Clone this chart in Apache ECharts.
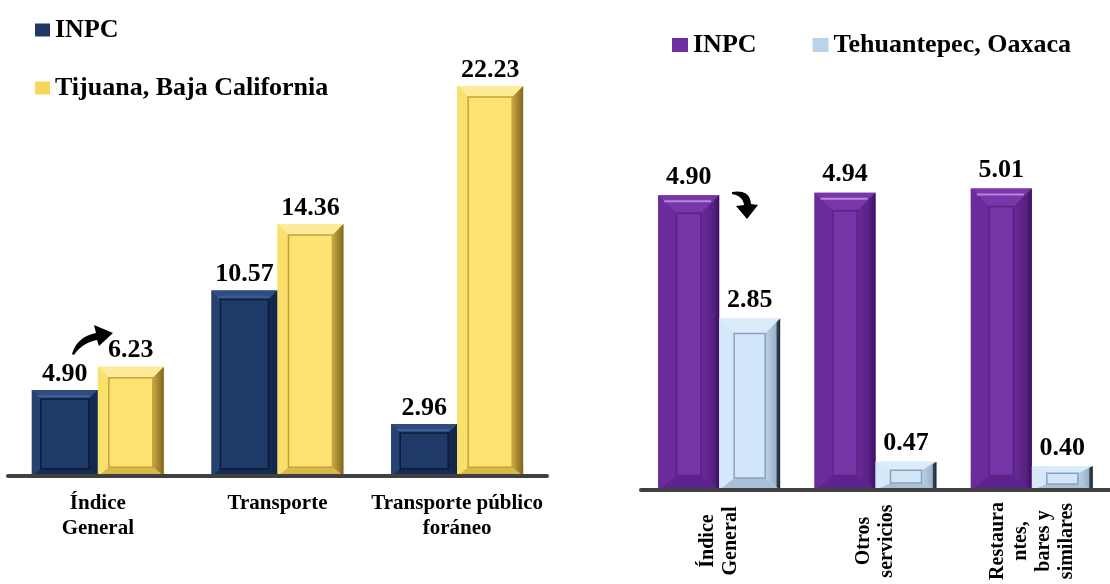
<!DOCTYPE html>
<html>
<head>
<meta charset="utf-8">
<script src="https://cdn.jsdelivr.net/npm/echarts@6/dist/echarts.min.js"></script>
<style>
  html, body { margin: 0; padding: 0; background: #fff; }
  #chart { width: 1110px; height: 584px; }
</style>
</head>
<body>
<div id="chart"></div>
<script>
// Left panel: Tijuana vs national index
const leftCategories = ['Índice\nGeneral', 'Transporte', 'Transporte público\nforáneo'];
const leftInpc = [4.90, 10.57, 2.96];
const leftTijuana = [6.23, 14.36, 22.23];

// Right panel: Tehuantepec vs national index
const rightCategories = ['Índice\nGeneral', 'Otros\nservicios', 'Restaura\nntes,\nbares y\nsimilares'];
const rightInpc = [4.90, 4.94, 5.01];
const rightTehuantepec = [2.85, 0.47, 0.40];

const SERIF = '"Liberation Serif", "Times New Roman", serif';

// Bevelled "button" look for each colour; gradient stops run from the outer edge inwards
const STYLES = {
  navy:   { base: '#1f3864', top: '#2e4c82', left: '#26426f', right: '#14284d', bottom: '#172c52',
            panel: '#1f3a69', stroke: '#0d1b36', hl: '#3e5d94', ih: 9, iv: 9 },
  yellow: { base: '#fddf6c', top: '#fdeb98', left: '#f9df6c',
            right: [[0, '#c9a843'], [1, '#7f6522']], bottom: '#d8b84b',
            panel: '#fde171', stroke: '#c3a23c', hl: null, ih: 11, iv: 11 },
  purple: { base: '#7030a0', top: '#7836a8', left: '#6a2c9c',
            right: [[0, '#6a2b9a'], [0.7, '#55207f'], [1, '#3a1062']], bottom: '#5d248e',
            panel: '#7535a6', stroke: '#5a2285', hl: '#b887de', ih: 20, iv: 18 },
  sky:    { base: '#c8e0f6', top: '#dbebfa', left: '#d4e8f9',
            right: [[0, '#bcd2e8'], [0.72, '#9ab2c9'], [0.8, '#34404e'], [1, '#1f2933']], bottom: '#a8c1d9',
            panel: '#d1e6f8', stroke: '#8aa2ba', hl: null, ih: 15, iv: 15 }
};

function fillOf(c) {
  if (Array.isArray(c)) {
    return { type: 'linear', x: 0, y: 0, x2: 1, y2: 0,
      colorStops: c.map((s) => ({ offset: s[0], color: s[1] })) };
  }
  return c;
}

function bevelRenderer(style, barW, side) {
  return function (params, api) {
    const top = api.coord([api.value(0), api.value(1)]);
    const base = api.coord([api.value(0), 0]);
    const w = barW;
    const x = top[0] + (side < 0 ? -w : 0);
    const y = top[1];
    const h = base[1] - top[1];
    const ih = Math.min(style.ih, w * 0.3);
    const iv = Math.min(style.iv, h * 0.3);
    const ivb = Math.min(style.iv * 0.8, h * 0.25);
    const poly = (pts, fill) => ({ type: 'polygon', shape: { points: pts }, style: { fill: fill } });
    const children = [
      poly([[x, y], [x + w, y], [x + w - ih, y + iv], [x + ih, y + iv]], style.top),
      poly([[x, y + h], [x + w, y + h], [x + w - ih, y + h - ivb], [x + ih, y + h - ivb]], style.bottom),
      poly([[x, y], [x + ih, y + iv], [x + ih, y + h - ivb], [x, y + h]], style.left),
      poly([[x + w, y], [x + w - ih, y + iv], [x + w - ih, y + h - ivb], [x + w, y + h]], fillOf(style.right)),
      {
        type: 'rect',
        shape: { x: x + ih, y: y + iv, width: w - 2 * ih, height: Math.max(0, h - iv - ivb) },
        style: { fill: style.panel, stroke: style.stroke, lineWidth: 1.5 }
      }
    ];
    if (style.hl && h > 20) {
      children.push({
        type: 'line',
        shape: { x1: x + 6, y1: y + 6, x2: x + w - 8, y2: y + 6 },
        style: { stroke: style.hl, lineWidth: 2 }
      });
    }
    return { type: 'group', children: children };
  };
}

const valueLabel = (dist) => ({
  show: true,
  position: 'top',
  distance: dist,
  formatter: (p) => Number(p.value).toFixed(2),
  fontFamily: SERIF,
  fontWeight: 'bold',
  fontSize: 26,
  color: '#000'
});

const LEFT_W = 66, RIGHT_W = 61;

function barSeries(name, data, styleKey, axisIdx, barW, dist) {
  return {
    name: name,
    type: 'bar',
    xAxisIndex: axisIdx,
    yAxisIndex: axisIdx,
    data: data,
    barWidth: barW,
    barGap: '0%',
    z: 2,
    itemStyle: { color: STYLES[styleKey].base },
    label: valueLabel(dist)
  };
}

function bevelSeries(data, styleKey, axisIdx, barW, side) {
  return {
    type: 'custom',
    xAxisIndex: axisIdx,
    yAxisIndex: axisIdx,
    z: 3,
    silent: true,
    renderItem: bevelRenderer(STYLES[styleKey], barW, side),
    data: data.map((v, i) => [i, v])
  };
}

// Curved arrow outline: a quadratic spine with a triangular head
function quad(p0, p1, p2, n) {
  const pts = [];
  for (let i = 0; i <= n; i++) {
    const t = i / n, u = 1 - t;
    pts.push([u * u * p0[0] + 2 * u * t * p1[0] + t * t * p2[0],
              u * u * p0[1] + 2 * u * t * p1[1] + t * t * p2[1]]);
  }
  return pts;
}
const arrowUp = [].concat(
  quad([72, 354], [77, 337], [96, 333], 12),
  [[94, 325], [113, 333], [99, 346]],
  quad([97, 340], [82, 343], [74, 355], 12)
);
const arrowDown = [].concat(
  quad([732, 192], [750, 189], [751, 204], 12),
  [[758, 205], [747, 219], [736, 206]],
  quad([744, 205], [743, 196], [732, 194], 12)
);

const catAxisLine = { show: true, lineStyle: { color: '#404040', width: 4 } };

const option = {
  animation: false,
  backgroundColor: '#ffffff',
  textStyle: { fontFamily: SERIF },
  legend: [
    {
      orient: 'vertical',
      left: 30,
      top: 10,
      itemGap: 28,
      itemWidth: 15,
      itemHeight: 13,
      icon: 'rect',
      textStyle: { fontFamily: SERIF, fontWeight: 'bold', fontSize: 26, color: '#000', lineHeight: 30 },
      data: [
        { name: 'INPC', itemStyle: { color: STYLES.navy.base } },
        { name: 'Tijuana, Baja California', itemStyle: { color: '#f5d55a' } }
      ]
    },
    {
      orient: 'horizontal',
      left: 667,
      top: 25,
      itemGap: 56,
      itemWidth: 16,
      itemHeight: 14,
      icon: 'rect',
      textStyle: { fontFamily: SERIF, fontWeight: 'bold', fontSize: 26, color: '#000', lineHeight: 30 },
      data: [
        { name: 'INPC', itemStyle: { color: STYLES.purple.base } },
        { name: 'Tehuantepec, Oaxaca', itemStyle: { color: '#b9d3ea' } }
      ]
    }
  ],
  grid: [
    { left: 8, width: 539, top: 55, height: 421 },
    { left: 641, width: 487, top: 129, height: 361 }
  ],
  xAxis: [
    {
      type: 'category',
      gridIndex: 0,
      data: leftCategories,
      z: 6,
      axisLine: catAxisLine,
      axisTick: { show: false },
      axisLabel: {
        margin: 15,
        fontFamily: SERIF,
        fontWeight: 'bold',
        fontSize: 21,
        lineHeight: 25,
        color: '#000',
        interval: 0
      }
    },
    {
      type: 'category',
      gridIndex: 1,
      data: rightCategories,
      z: 6,
      axisLine: catAxisLine,
      axisTick: { show: false },
      axisLabel: {
        rotate: 90,
        align: 'center',
        verticalAlign: 'middle',
        margin: 51,
        fontFamily: SERIF,
        fontWeight: 'bold',
        fontSize: 20,
        lineHeight: 23,
        color: '#000',
        interval: 0
      }
    }
  ],
  yAxis: [
    { type: 'value', gridIndex: 0, min: 0, max: 24, show: false, splitLine: { show: false } },
    { type: 'value', gridIndex: 1, min: 0, max: 6, show: false, splitLine: { show: false } }
  ],
  series: [
    barSeries('INPC', leftInpc, 'navy', 0, LEFT_W, 3),
    barSeries('Tijuana, Baja California', leftTijuana, 'yellow', 0, LEFT_W, 3),
    barSeries('INPC', rightInpc, 'purple', 1, RIGHT_W, 5),
    barSeries('Tehuantepec, Oaxaca', rightTehuantepec, 'sky', 1, RIGHT_W, 5),
    bevelSeries(leftInpc, 'navy', 0, LEFT_W, -1),
    bevelSeries(leftTijuana, 'yellow', 0, LEFT_W, 1),
    bevelSeries(rightInpc, 'purple', 1, RIGHT_W, -1),
    bevelSeries(rightTehuantepec, 'sky', 1, RIGHT_W, 1)
  ],
  graphic: [
    { type: 'polygon', z: 10, shape: { points: arrowUp }, style: { fill: '#000' } },
    { type: 'polygon', z: 10, shape: { points: arrowDown }, style: { fill: '#000' } }
  ]
};

const chart = echarts.init(document.getElementById('chart'), null, { renderer: 'canvas' });
chart.setOption(option);
</script>
</body>
</html>
